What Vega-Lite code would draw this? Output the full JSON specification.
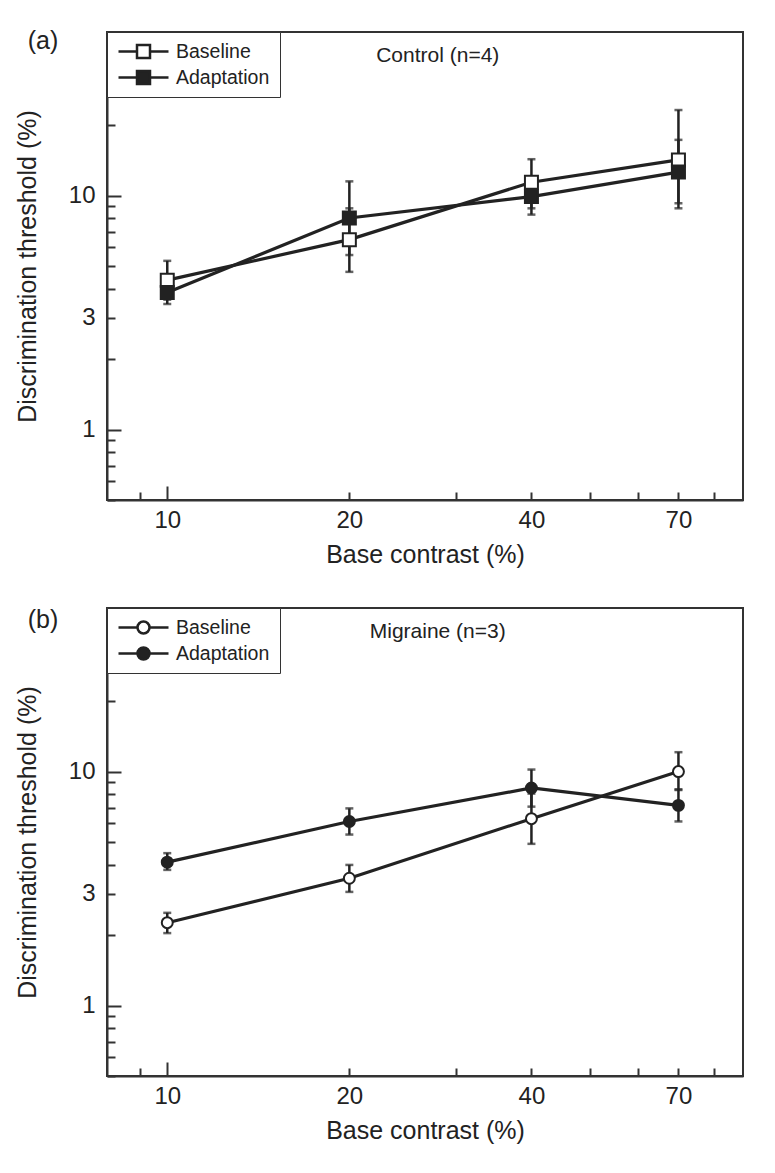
{
  "$schema": "https://vega.github.io/schema/vega-lite/v6.json",
  "background": "white",
  "padding": {"left": 14, "top": 27, "right": 20, "bottom": 10},
  "bounds": "flush",
  "spacing": 108,
  "config": {
    "font": "Liberation Sans",
    "view": {"stroke": "#333", "strokeWidth": 2},
    "axis": {
      "grid": false,
      "domainColor": "#333",
      "domainWidth": 2,
      "tickColor": "#333",
      "tickWidth": 2,
      "labelFont": "Liberation Sans",
      "labelFontSize": 24,
      "labelColor": "#222",
      "titleFont": "Liberation Sans",
      "titleFontSize": 25,
      "titleFontWeight": "normal",
      "titleColor": "#222",
      "labelOverlap": false,
      "labelFlush": false,
      "labelBound": false
    },
    "legend": {
      "labelFont": "Liberation Sans",
      "labelFontSize": 19.5,
      "labelColor": "#222"
    }
  },
  "resolve": {
    "scale": {"x": "independent", "y": "independent", "fill": "independent"},
    "legend": {"fill": "independent"}
  },
  "datasets": {
    "control": [
      {"group": "Baseline", "contrast": 10, "thr": 4.35, "lo": 3.59, "hi": 5.26},
      {"group": "Baseline", "contrast": 20, "thr": 6.48, "lo": 4.72, "hi": 8.82},
      {"group": "Baseline", "contrast": 40, "thr": 11.4, "lo": 8.82, "hi": 14.3},
      {"group": "Baseline", "contrast": 70, "thr": 14.2, "lo": 8.82, "hi": 23.2},
      {"group": "Adaptation", "contrast": 10, "thr": 3.85, "lo": 3.44, "hi": 4.30},
      {"group": "Adaptation", "contrast": 20, "thr": 8.02, "lo": 5.57, "hi": 11.5},
      {"group": "Adaptation", "contrast": 40, "thr": 9.9, "lo": 8.29, "hi": 11.8},
      {"group": "Adaptation", "contrast": 70, "thr": 12.6, "lo": 9.27, "hi": 17.3}
    ],
    "migraine": [
      {"group": "Baseline", "contrast": 10, "thr": 2.26, "lo": 2.04, "hi": 2.49},
      {"group": "Baseline", "contrast": 20, "thr": 3.50, "lo": 3.06, "hi": 3.99},
      {"group": "Baseline", "contrast": 40, "thr": 6.29, "lo": 4.91, "hi": 8.05},
      {"group": "Baseline", "contrast": 70, "thr": 10.0, "lo": 8.34, "hi": 12.1},
      {"group": "Adaptation", "contrast": 10, "thr": 4.10, "lo": 3.80, "hi": 4.48},
      {"group": "Adaptation", "contrast": 20, "thr": 6.12, "lo": 5.38, "hi": 6.96},
      {"group": "Adaptation", "contrast": 40, "thr": 8.51, "lo": 7.08, "hi": 10.2},
      {"group": "Adaptation", "contrast": 70, "thr": 7.17, "lo": 6.12, "hi": 8.40}
    ]
  },
  "vconcat": [
    {
      "width": 636,
      "height": 468,
      "data": {"name": "control"},
      "encoding": {
        "x": {
          "field": "contrast", "type": "quantitative",
          "scale": {"type": "log", "domain": [7.95, 89.5], "nice": false},
          "axis": {
            "title": "Base contrast (%)",
            "values": [9, 10, 20, 30, 40, 50, 60, 70, 80],
            "labelExpr": "(datum.value == 10 || datum.value == 20 || datum.value == 40 || datum.value == 70) ? toString(datum.value) : ''",
            "tickSize": {"condition": {"test": "datum.value == 10", "value": -14}, "value": -8},
            "labelPadding": {"condition": {"test": "datum.value == 10", "value": 22}, "value": 16},
            "titlePadding": 10
          }
        },
        "y": {
          "field": "thr", "type": "quantitative",
          "scale": {"type": "log", "domain": [0.5, 50], "nice": false},
          "axis": {
            "title": "Discrimination threshold (%)",
            "values": [0.5, 0.6, 0.7, 0.8, 0.9, 1, 2, 3, 4, 5, 6, 7, 8, 9, 10, 20, 30, 40],
            "labelExpr": "(datum.value == 1 || datum.value == 3 || datum.value == 10) ? toString(datum.value) : ''",
            "tickSize": {"condition": {"test": "datum.value == 1 || datum.value == 10", "value": -14}, "value": -8},
            "labelPadding": {"condition": {"test": "datum.value == 1 || datum.value == 10", "value": 26}, "value": 20},
            "titlePadding": 28
          }
        }
      },
      "layer": [
        {"mark": {"type": "line", "color": "#222", "strokeWidth": 3.2}, "encoding": {"detail": {"field": "group"}}},
        {"mark": {"type": "rule", "color": "#222", "strokeWidth": 2.5}, "encoding": {"y": {"field": "lo", "type": "quantitative"}, "y2": {"field": "hi"}}},
        {"mark": {"type": "tick", "orient": "horizontal", "color": "#222", "size": 8, "thickness": 2.5}, "encoding": {"y": {"field": "lo", "type": "quantitative"}}},
        {"mark": {"type": "tick", "orient": "horizontal", "color": "#222", "size": 8, "thickness": 2.5}, "encoding": {"y": {"field": "hi", "type": "quantitative"}}},
        {
          "mark": {"type": "point", "shape": "square", "filled": true, "size": 169, "stroke": "#222", "strokeWidth": 2, "opacity": 1},
          "encoding": {
            "fill": {
              "field": "group", "type": "nominal",
              "scale": {"domain": ["Baseline", "Adaptation"], "range": ["white", "#222"]},
              "legend": {
                "title": null, "orient": "none", "legendX": 0, "legendY": 0,
                "strokeColor": "#333", "fillColor": "white", "padding": 10,
                "rowPadding": 6, "clipHeight": 19, "symbolSize": 2500, "labelOffset": 6,
                "symbolType": "M-1,0H-0.26M0.26,0H1M-0.26,-0.26H0.26V0.26H-0.26Z",
                "symbolStrokeColor": "#222", "symbolStrokeWidth": 2.5
              }
            }
          }
        },
        {"transform": [{"filter": "datum.contrast == 10 && datum.group == 'Baseline'"}],
         "mark": {"type": "text", "text": "(a)", "fontSize": 25, "fontWeight": "normal", "fill": "#222", "align": "center", "baseline": "alphabetic"},
         "encoding": {"x": {"datum": 6.23}, "y": {"datum": 42.3}}},
        {"transform": [{"filter": "datum.contrast == 10 && datum.group == 'Baseline'"}],
         "mark": {"type": "text", "text": "Control (n=4)", "fontSize": 21, "fontWeight": "normal", "fill": "#222", "align": "center", "baseline": "alphabetic"},
         "encoding": {"x": {"datum": 28}, "y": {"datum": 37.3}}}
      ]
    },
    {
      "width": 636,
      "height": 468,
      "data": {"name": "migraine"},
      "encoding": {
        "x": {
          "field": "contrast", "type": "quantitative",
          "scale": {"type": "log", "domain": [7.95, 89.5], "nice": false},
          "axis": {
            "title": "Base contrast (%)",
            "values": [9, 10, 20, 30, 40, 50, 60, 70, 80],
            "labelExpr": "(datum.value == 10 || datum.value == 20 || datum.value == 40 || datum.value == 70) ? toString(datum.value) : ''",
            "tickSize": {"condition": {"test": "datum.value == 10", "value": -14}, "value": -8},
            "labelPadding": {"condition": {"test": "datum.value == 10", "value": 22}, "value": 16},
            "titlePadding": 10
          }
        },
        "y": {
          "field": "thr", "type": "quantitative",
          "scale": {"type": "log", "domain": [0.5, 50], "nice": false},
          "axis": {
            "title": "Discrimination threshold (%)",
            "values": [0.5, 0.6, 0.7, 0.8, 0.9, 1, 2, 3, 4, 5, 6, 7, 8, 9, 10, 20, 30, 40],
            "labelExpr": "(datum.value == 1 || datum.value == 3 || datum.value == 10) ? toString(datum.value) : ''",
            "tickSize": {"condition": {"test": "datum.value == 1 || datum.value == 10", "value": -14}, "value": -8},
            "labelPadding": {"condition": {"test": "datum.value == 1 || datum.value == 10", "value": 26}, "value": 20},
            "titlePadding": 28
          }
        }
      },
      "layer": [
        {"mark": {"type": "line", "color": "#222", "strokeWidth": 3.2}, "encoding": {"detail": {"field": "group"}}},
        {"mark": {"type": "rule", "color": "#222", "strokeWidth": 2.5}, "encoding": {"y": {"field": "lo", "type": "quantitative"}, "y2": {"field": "hi"}}},
        {"mark": {"type": "tick", "orient": "horizontal", "color": "#222", "size": 8, "thickness": 2.5}, "encoding": {"y": {"field": "lo", "type": "quantitative"}}},
        {"mark": {"type": "tick", "orient": "horizontal", "color": "#222", "size": 8, "thickness": 2.5}, "encoding": {"y": {"field": "hi", "type": "quantitative"}}},
        {
          "mark": {"type": "point", "shape": "circle", "filled": true, "size": 120, "stroke": "#222", "strokeWidth": 2, "opacity": 1},
          "encoding": {
            "fill": {
              "field": "group", "type": "nominal",
              "scale": {"domain": ["Baseline", "Adaptation"], "range": ["white", "#222"]},
              "legend": {
                "title": null, "orient": "none", "legendX": 0, "legendY": 0,
                "strokeColor": "#333", "fillColor": "white", "padding": 10,
                "rowPadding": 6, "clipHeight": 19, "symbolSize": 2500, "labelOffset": 6,
                "symbolType": "M-1,0H-0.24M0.24,0H1M-0.24,0A0.24,0.24,0,1,0,0.24,0A0.24,0.24,0,1,0,-0.24,0Z",
                "symbolStrokeColor": "#222", "symbolStrokeWidth": 2.5
              }
            }
          }
        },
        {"transform": [{"filter": "datum.contrast == 10 && datum.group == 'Baseline'"}],
         "mark": {"type": "text", "text": "(b)", "fontSize": 25, "fontWeight": "normal", "fill": "#222", "align": "center", "baseline": "alphabetic"},
         "encoding": {"x": {"datum": 6.23}, "y": {"datum": 41.0}}},
        {"transform": [{"filter": "datum.contrast == 10 && datum.group == 'Baseline'"}],
         "mark": {"type": "text", "text": "Migraine (n=3)", "fontSize": 21, "fontWeight": "normal", "fill": "#222", "align": "center", "baseline": "alphabetic"},
         "encoding": {"x": {"datum": 28}, "y": {"datum": 37.3}}}
      ]
    }
  ]
}
